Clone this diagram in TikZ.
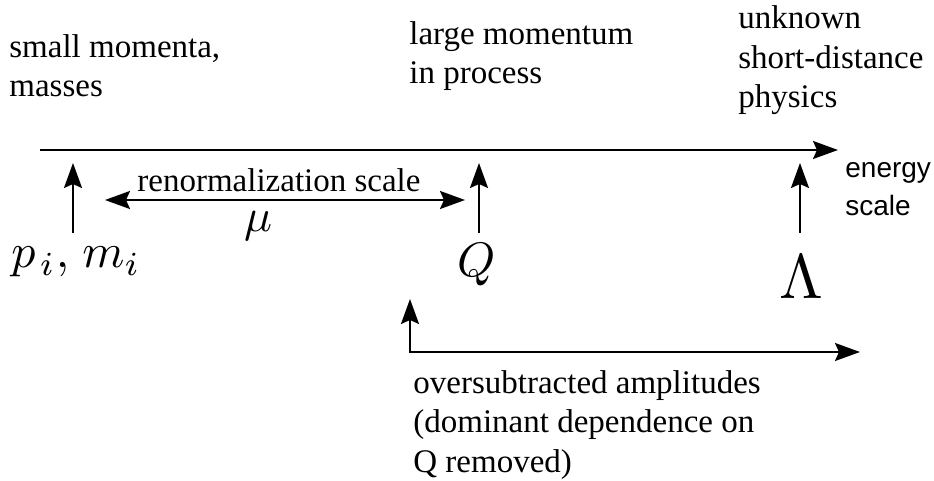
\documentclass[tikz,border=0pt]{standalone}
\usepackage[no-math]{fontspec}
\usepackage{graphicx}
\setmainfont{Liberation Serif}
\newfontfamily\hsans{Liberation Sans}
\usetikzlibrary{arrows.meta}
\newcommand{\serifsz}{\fontsize{16.5}{19.7}\selectfont}
\newcommand{\sanssz}{\hsans\fontsize{14}{19}\selectfont}
\begin{document}
\begin{tikzpicture}[x=0.5pt,y=-0.5pt,
  arr/.style={line width=1pt, -{Stealth[length=12.5pt,width=9pt,inset=2pt]}},
  darr/.style={line width=1pt, {Stealth[length=12.5pt,width=9pt,inset=2pt]}-{Stealth[length=12.5pt,width=9pt,inset=2pt]}},
  txt/.style={anchor=north west, inner sep=0pt, align=left, font=\serifsz},
  stxt/.style={anchor=north west, inner sep=0pt, align=left, font=\sanssz},
  mth/.style={inner sep=0pt}]
\useasboundingbox (0,0) rectangle (934,481);
% labels
\node[txt] (small) at (9,30.6) {\rule{0pt}{13.2pt}small momenta,\\masses};
\node[txt] (large) at (409,17.6) {\rule{0pt}{13.2pt}large momentum\\in process};
\node[txt] (unk) at (738,2.1) {\rule{0pt}{13.2pt}unknown\\short-distance\\physics};
\node[txt] (over) at (413,366.6) {\rule{0pt}{13.2pt}oversubtracted amplitudes\\(dominant dependence on\\Q removed)};
\node[stxt] (energy) at (845,154.6) {\rule{0pt}{11.2pt}energy\\scale};
\node[anchor=base west, inner sep=0pt, font=\serifsz] (renorm) at (137,192) {renormalization scale};
\node[mth, anchor=base] (mu) at (258,232) {\scalebox{2.32}{$\mu$}};
\node[mth, anchor=base west] (pm) at (11,268) {\scalebox{2.4}{$p_{\mkern2mu i},\mkern2mu m_i$}};
\node[mth, anchor=base] (Q) at (477,277) {\scalebox{2.42}{$Q$}};
\node[mth, anchor=base] (Lam) at (801,299) {\scalebox{3.15}{$\Lambda$}};
% arrow end points
\coordinate (axS) at (40,150);
\coordinate (axE) at (838,150);
\coordinate (pB) at (73,233);
\coordinate (pT) at (73,163);
\coordinate (rL) at (105,200);
\coordinate (rR) at (465,200);
\coordinate (qB) at (479,233);
\coordinate (qT) at (479,163);
\coordinate (lB) at (800,233);
\coordinate (lT) at (800,163);
\coordinate (oT) at (410,299);
\coordinate (oC) at (410,352);
\coordinate (oE) at (860,352);
% arrows
\draw[arr] (axS) -- (axE);
\draw[arr] (pB) -- (pT);
\draw[darr] (rL) -- (rR);
\draw[arr] (qB) -- (qT);
\draw[arr] (lB) -- (lT);
\draw[darr, line join=miter] (oT) -- (oC) -- (oE);
\end{tikzpicture}
\end{document}
